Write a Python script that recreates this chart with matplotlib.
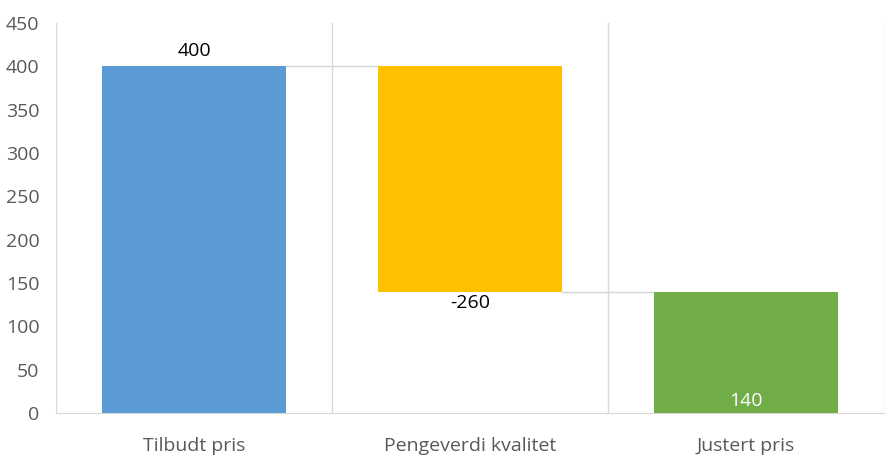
import matplotlib
matplotlib.use("Agg")
import matplotlib.pyplot as plt
import numpy as np

categories = ["Tilbudt pris", "Pengeverdi kvalitet", "Justert pris"]
values = [400, -260, 140]
is_total = [True, False, True]
colors = ["#5B9BD5", "#FFC000", "#70AD47"]

plt.rcParams['font.family'] = ['Open Sans', 'DejaVu Sans']

fig = plt.figure(figsize=(8.94, 4.69), dpi=100)
ax = fig.add_axes([56/894, 1-413/469, (884-56)/894, (413-23)/469])

x = np.arange(len(categories))
bottoms = []
running = 0
for v, t in zip(values, is_total):
    if t:
        bottoms.append(0)
        running = v
    else:
        new = running + v
        bottoms.append(min(running, new))
        running = new
heights = [abs(v) if not t else v for v, t in zip(values, is_total)]

width = 2/3
ax.bar(x, heights, bottom=bottoms, width=width, color=colors, zorder=3)

# connectors
levels = []
running = 0
for v, t in zip(values, is_total):
    running = v if t else running + v
    levels.append(running)
for i in range(len(x)-1):
    ax.plot([x[i]+width/2, x[i+1]-width/2], [levels[i], levels[i]],
            color="#d0d8d0", lw=1.0, zorder=2)

fs = 14
# labels
ax.text(x[0], values[0]+7, f"{values[0]}", ha="center", va="bottom", fontsize=fs, color="black")
ax.text(x[1], bottoms[1]-3, f"{values[1]}", ha="center", va="top", fontsize=fs, color="black")
ax.text(x[2], 4, f"{values[2]}", ha="center", va="bottom", fontsize=fs, color="white")

ax.set_xlim(-0.5, len(categories)-0.5)
ax.set_ylim(0, 450)
ax.set_yticks(np.arange(0, 451, 50))
ax.set_xticks(x)
ax.set_xticklabels(categories)
ax.set_xticks(np.arange(-0.5, len(categories), 1), minor=True)
ax.grid(False)
ax.grid(True, which="minor", axis="x", color="#d9d9d9", lw=1.0, zorder=0)
ax.tick_params(axis="both", which="both", length=0, labelsize=fs, labelcolor="#595959")
ax.tick_params(axis="x", pad=17)
ax.tick_params(axis="y", pad=12)
for s in ["top", "right", "left"]:
    ax.spines[s].set_visible(False)
ax.spines["bottom"].set_color("#d9d9d9")

fig.savefig("out.png", dpi=100, facecolor="white")
